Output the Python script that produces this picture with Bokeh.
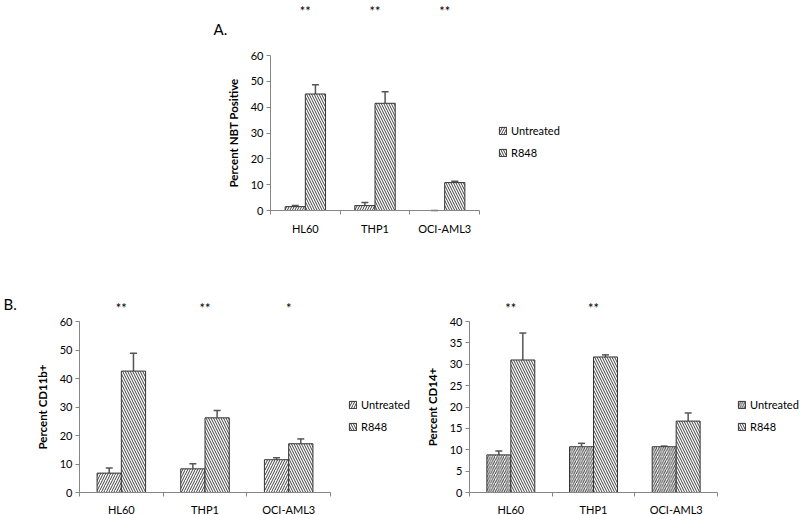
import numpy as np
from bokeh.plotting import figure
from bokeh.models import (ColumnDataSource, Range1d, FixedTicker, Whisker, TeeHead,
                          Legend, LegendItem, Label, Spacer)
from bokeh.layouts import row, column
from bokeh.embed import file_html
from bokeh.resources import INLINE

cells = ["HL60", "THP1", "OCI-AML3"]
series = ["Untreated", "R848"]

# Panel A: Percent NBT Positive
nbt_untreated = [1.5, 1.9, 0.0]
nbt_untreated_err = [0.4, 1.2, 0.0]
nbt_r848 = [45.1, 41.5, 10.8]
nbt_r848_err = [3.6, 4.5, 0.5]
nbt_sig = ["**", "**", "**"]

# Panel B (left): Percent CD11b+
cd11b_untreated = [6.8, 8.3, 11.5]
cd11b_untreated_err = [1.8, 1.8, 0.7]
cd11b_r848 = [42.6, 26.2, 17.1]
cd11b_r848_err = [6.3, 2.6, 1.7]
cd11b_sig = ["**", "**", "*"]

# Panel B (right): Percent CD14+
cd14_untreated = [8.8, 10.7, 10.7]
cd14_untreated_err = [0.9, 0.8, 0.15]
cd14_r848 = [31.0, 31.7, 16.7]
cd14_r848_err = [6.3, 0.5, 1.9]
cd14_sig = ["**", "**", ""]

FONT = "Lato"
AX = "#868686"
BAR_W = 0.29
LEG_H = 35  # legend box height in px (2 rows)


def make_panel(width, height, ax_left, ax_w, ax_bottom, ax_h, ymax, ystep, ylabel,
               unt, unt_err, r8, r8_err, sig, star_px, letter=None, letter_px=None,
               legend_px=(298, 124), unt_scale=5.0, xlab_standoff=7):
    """ax_left/ax_bottom: pixel position (in this canvas, from top-left) of the axes
    origin; ax_w/ax_h: pixel length of the x axis (3 categories) and of the y axis."""
    n = len(cells)
    xppu = ax_w / n
    yppu = ax_h / ymax
    p = figure(width=width, height=height, output_backend="svg", toolbar_location=None,
               x_range=Range1d(-ax_left / xppu, (width - ax_left) / xppu),
               y_range=Range1d(-(height - ax_bottom) / yppu, ax_bottom / yppu),
               min_border_left=0, min_border_right=0, min_border_top=0,
               min_border_bottom=0, background_fill_color="white",
               border_fill_color="white", outline_line_color=None)
    p.xgrid.visible = False
    p.ygrid.visible = False

    idx = np.arange(n) + 0.5
    src_u = ColumnDataSource(dict(x=idx - BAR_W / 2, top=unt,
                                  up=np.array(unt) + np.array(unt_err)))
    src_r = ColumnDataSource(dict(x=idx + BAR_W / 2, top=r8,
                                  up=np.array(r8) + np.array(r8_err)))

    ru = p.vbar(x="x", top="top", bottom=0, width=BAR_W, source=src_u,
                fill_color="white", line_color="#333333", line_width=1,
                hatch_pattern="right_diagonal_line", hatch_scale=unt_scale,
                hatch_weight=1, hatch_color="#404040")
    rr = p.vbar(x="x", top="top", bottom=0, width=BAR_W, source=src_r,
                fill_color="white", line_color="#333333", line_width=1,
                hatch_pattern="left_diagonal_line", hatch_scale=5,
                hatch_weight=1, hatch_color="#404040")

    for src in (src_u, src_r):
        w = Whisker(base="x", lower="top", upper="up", source=src, dimension="height",
                    line_color="#555555", line_width=1.5,
                    upper_head=TeeHead(size=7, line_color="#555555", line_width=1.5),
                    lower_head=None)
        p.add_layout(w)

    # y axis, pinned at x = 0 inside the frame
    ya = p.yaxis[0]
    ya.fixed_location = 0
    ya.bounds = (0, ymax)
    ya.ticker = FixedTicker(ticks=list(range(0, ymax + 1, ystep)))
    ya.axis_line_color = AX
    ya.major_tick_line_color = AX
    ya.major_tick_out = 4
    ya.major_tick_in = 0
    ya.minor_tick_out = 0
    ya.minor_tick_in = 0
    ya.major_label_standoff = 3
    ya.major_label_text_font = FONT
    ya.major_label_text_font_size = "11px"
    ya.major_label_text_color = "black"
    ya.axis_label = ylabel
    ya.axis_label_text_font = FONT
    ya.axis_label_text_font_style = "bold"
    ya.axis_label_text_font_size = "11.5px"
    ya.axis_label_text_color = "black"
    ya.axis_label_standoff = 8

    # x axis, pinned at y = 0 inside the frame
    xa = p.xaxis[0]
    xa.fixed_location = 0
    xa.bounds = (0, n)
    xa.ticker = FixedTicker(ticks=list(idx), minor_ticks=list(range(n + 1)))
    xa.major_label_overrides = {float(v): c for v, c in zip(idx, cells)}
    xa.axis_line_color = AX
    xa.major_tick_out = 0
    xa.major_tick_in = 0
    xa.minor_tick_line_color = AX
    xa.minor_tick_out = 4
    xa.minor_tick_in = 0
    xa.major_label_standoff = xlab_standoff
    xa.major_label_text_font = FONT
    xa.major_label_text_font_size = "11px"
    xa.major_label_text_color = "black"

    for xi, s in zip(idx, sig):
        if s:
            p.add_layout(Label(x=xi, y=(ax_bottom - star_px) / yppu, text=s,
                               text_align="center", text_baseline="middle",
                               text_font=FONT, text_font_size="13px",
                               text_color="black"))
    if letter:
        p.add_layout(Label(x=(letter_px[0] - ax_left) / xppu,
                           y=(ax_bottom - letter_px[1]) / yppu, text=letter,
                           text_align="left", text_baseline="middle", text_font=FONT,
                           text_font_size="15px", text_color="black"))

    legend = Legend(items=[LegendItem(label=series[0], renderers=[ru]),
                           LegendItem(label=series[1], renderers=[rr])],
                    location=(legend_px[0], height - legend_px[1] - LEG_H),
                    orientation="vertical",
                    border_line_color=None, background_fill_alpha=0,
                    margin=0, padding=0, spacing=9,
                    glyph_width=9, glyph_height=9, label_height=13,
                    label_standoff=4, label_text_font=FONT,
                    label_text_font_size="11px", label_text_color="black")
    p.add_layout(legend)
    return p


# panel A: canvas x 200..600, y 0..240; axes origin at (270, 210)
pA = make_panel(400, 240, 70, 209, 210, 155, 60, 10, "Percent NBT Positive",
                nbt_untreated, nbt_untreated_err, nbt_r848, nbt_r848_err, nbt_sig,
                star_px=10, letter="A.", letter_px=(13, 28), legend_px=(298, 124))

# panel B left: canvas x 0..414, y 240..515; axes origin at (79, 492)
pB = make_panel(414, 275, 79, 251, 252, 171, 60, 10, "Percent CD11b+",
                cd11b_untreated, cd11b_untreated_err, cd11b_r848, cd11b_r848_err,
                cd11b_sig, star_px=67, letter="B.", letter_px=(3, 63),
                legend_px=(348, 158), unt_scale=5, xlab_standoff=6)

# panel B right: canvas x 414..800, y 240..515; axes origin at (469, 492)
pC = make_panel(386, 275, 55, 248, 252, 171, 40, 5, "Percent CD14+",
                cd14_untreated, cd14_untreated_err, cd14_r848, cd14_r848_err,
                cd14_sig, star_px=67, legend_px=(323, 158), unt_scale=4.5,
                xlab_standoff=6)

layout = column(row(Spacer(width=200, height=240), pA), row(pB, pC))

open("out.html", "w").write(file_html(layout, INLINE))
